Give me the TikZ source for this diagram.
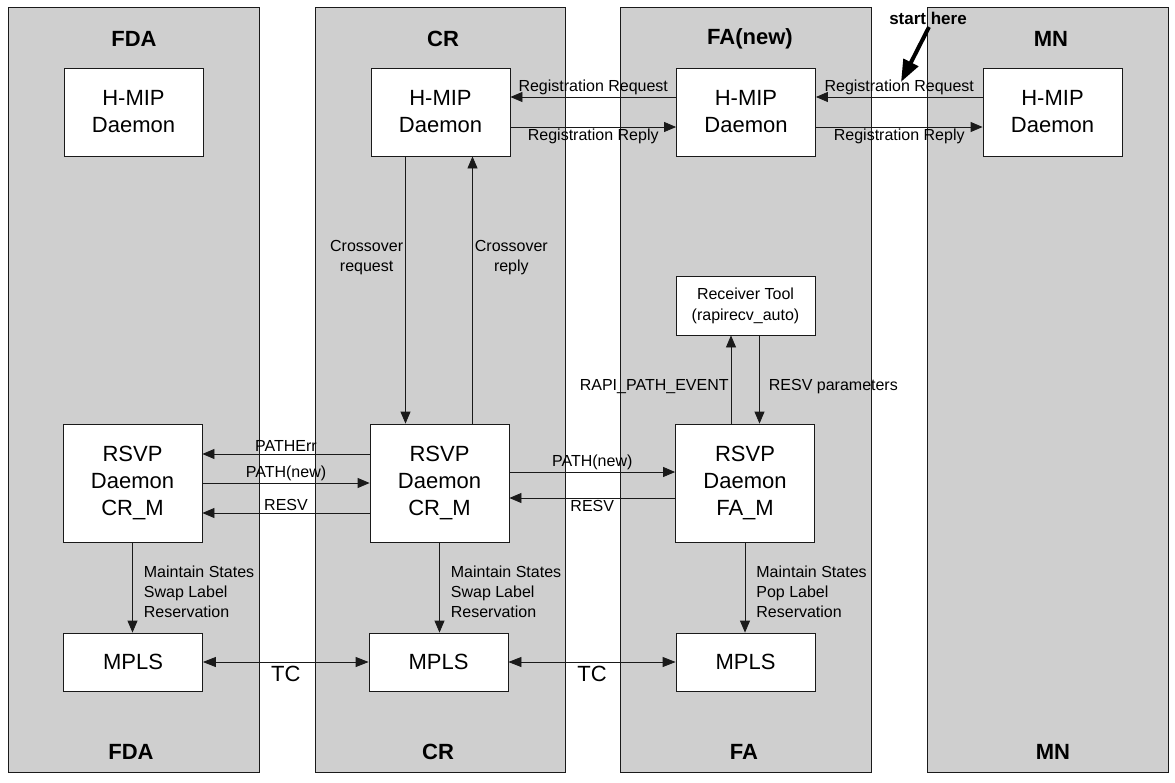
\documentclass[tikz,border=0pt]{standalone}
\usepackage{fontspec}
\setmainfont{Liberation Sans}
\usepackage{xcolor}
\usetikzlibrary{arrows.meta}
\definecolor{panelgray}{HTML}{CFCFCF}
\definecolor{linedark}{HTML}{1A1A1A}
\tikzset{
  panel/.style={draw=linedark,fill=panelgray,line width=0.8pt},
  box/.style={draw=linedark,fill=white,line width=0.8pt,align=center,minimum width=139pt,inner sep=0pt,font=\fontsize{22}{27}\selectfont},
  ttl/.style={font=\fontsize{22}{25}\selectfont\bfseries},
  lbl/.style={font=\fontsize{16}{20}\selectfont,inner sep=2pt},
  ar/.style={-{Triangle[length=12pt,width=10pt]},draw=linedark,line width=0.8pt},
  dar/.style={{Triangle[length=13pt,width=10pt]}-{Triangle[length=13pt,width=10pt]},draw=linedark,line width=0.8pt},
  bigar/.style={-{Triangle[length=22pt,width=16pt]},draw=black,line width=4pt},
}
\begin{document}
\begin{tikzpicture}[x=1pt,y=-1pt]
  \useasboundingbox (0,0) rectangle (1175,782);
  % panels
  \foreach \xa/\xb in {8/259,315/565,620/871,927/1168} {\draw[panel] (\xa,7) rectangle (\xb,772);}
  % titles
  \node[ttl] (fdaTop) at (134,39) {FDA};
  \node[ttl] (crTop) at (443,39) {CR};
  \node[ttl] (faTop) at (750,39) {FA(new)};
  \node[ttl] (mnTop) at (1051,39) {MN};
  \node[ttl] (fdaBot) at (131,752) {FDA};
  \node[ttl] (crBot) at (438,752) {CR};
  \node[ttl] (faBot) at (744,752) {FA};
  \node[ttl] (mnBot) at (1053,752) {MN};
  % daemons and tools
  \node[box,minimum height=88pt] (fdaHmip) at (133.5,112) {H-MIP\\Daemon};
  \node[box,minimum height=88pt] (crHmip) at (440.5,112) {H-MIP\\Daemon};
  \node[box,minimum height=88pt] (faHmip) at (746,112) {H-MIP\\Daemon};
  \node[box,minimum height=88pt] (mnHmip) at (1052.5,112) {H-MIP\\Daemon};
  \node[box,minimum height=59pt,font=\fontsize{16}{21}\selectfont] (rcvTool) at (745.5,305.5) {Receiver Tool\\(rapirecv\_auto)};
  \node[box,minimum height=118pt] (fdaRsvp) at (132.5,483) {RSVP\\Daemon\\CR\_M};
  \node[box,minimum height=118pt] (crRsvp) at (439.5,483) {RSVP\\Daemon\\CR\_M};
  \node[box,minimum height=118pt] (faRsvp) at (745,483) {RSVP\\Daemon\\FA\_M};
  \node[box,minimum height=58pt] (fdaMpls) at (133,662) {MPLS};
  \node[box,minimum height=58pt] (crMpls) at (438.5,662) {MPLS};
  \node[box,minimum height=58pt] (faMpls) at (745.5,662) {MPLS};
  % registration
  \draw[ar] ([yshift=15pt]faHmip.west) -- ([yshift=15pt]crHmip.east) node[lbl,above,midway]{Registration Request};
  \draw[ar] ([yshift=-15pt]crHmip.east) -- ([yshift=-15pt]faHmip.west) node[lbl,below,midway]{Registration Reply};
  \draw[ar] ([yshift=15pt]mnHmip.west) -- ([yshift=15pt]faHmip.east) node[lbl,above,midway]{Registration Request};
  \draw[ar] ([yshift=-15pt]faHmip.east) -- ([yshift=-15pt]mnHmip.west) node[lbl,below,midway]{Registration Reply};
  % crossover
  \draw[ar] ([xshift=-35pt]crHmip.south) -- ([xshift=-35pt]crHmip.south |- crRsvp.north) node[lbl,left,pos=0.38,align=center]{Crossover\\request};
  \draw[ar] ([xshift=32pt]crHmip.south |- crRsvp.north) -- ([xshift=32pt]crHmip.south) node[lbl,right,pos=0.62,align=center]{Crossover\\reply};
  % receiver tool
  \draw[ar] ([xshift=-14pt]faRsvp.north) -- ([xshift=-14pt]faRsvp.north |- rcvTool.south) node[lbl,left,pos=0.42]{RAPI\_PATH\_EVENT};
  \draw[ar] ([xshift=14pt]rcvTool.south) -- ([xshift=14pt]rcvTool.south |- faRsvp.north) node[lbl,right,pos=0.58,xshift=7pt]{RESV parameters};
  % rsvp messages
  \draw[ar] ([yshift=29pt]crRsvp.west) -- ([yshift=29pt]fdaRsvp.east) node[lbl,above,midway]{PATHErr};
  \draw[ar] (fdaRsvp.east) -- (crRsvp.west) node[lbl,above,midway]{PATH(new)};
  \draw[ar] ([yshift=-30pt]crRsvp.west) -- ([yshift=-30pt]fdaRsvp.east) node[lbl,above,midway]{RESV};
  \draw[ar] ([yshift=11pt]crRsvp.east) -- ([yshift=11pt]faRsvp.west) node[lbl,above,midway]{PATH(new)};
  \draw[ar] ([yshift=-15pt]faRsvp.west) -- ([yshift=-15pt]crRsvp.east) node[lbl,below,midway]{RESV};
  % label states
  \draw[ar] (fdaRsvp.south) -- (fdaRsvp.south |- fdaMpls.north) node[lbl,right,pos=0.55,xshift=9pt,align=left]{Maintain States\\Swap Label\\Reservation};
  \draw[ar] (crRsvp.south) -- (crRsvp.south |- crMpls.north) node[lbl,right,pos=0.55,xshift=9pt,align=left]{Maintain States\\Swap Label\\Reservation};
  \draw[ar] (faRsvp.south) -- (faRsvp.south |- faMpls.north) node[lbl,right,pos=0.55,xshift=9pt,align=left]{Maintain States\\Pop Label\\Reservation};
  % tunnels
  \draw[dar] (fdaMpls) -- (crMpls) node[below,midway,font=\fontsize{22}{25}\selectfont]{TC};
  \draw[dar] (crMpls) -- (faMpls) node[below,midway,font=\fontsize{22}{25}\selectfont]{TC};
  % start
  \node[font=\fontsize{17}{20}\selectfont\bfseries,inner sep=1pt] (startLbl) at (928,18) {start here};
  \coordinate (startTail) at (929,27);
  \coordinate (startTip) at (901,82);
  \draw[bigar] (startTail) -- (startTip);
\end{tikzpicture}
\end{document}
